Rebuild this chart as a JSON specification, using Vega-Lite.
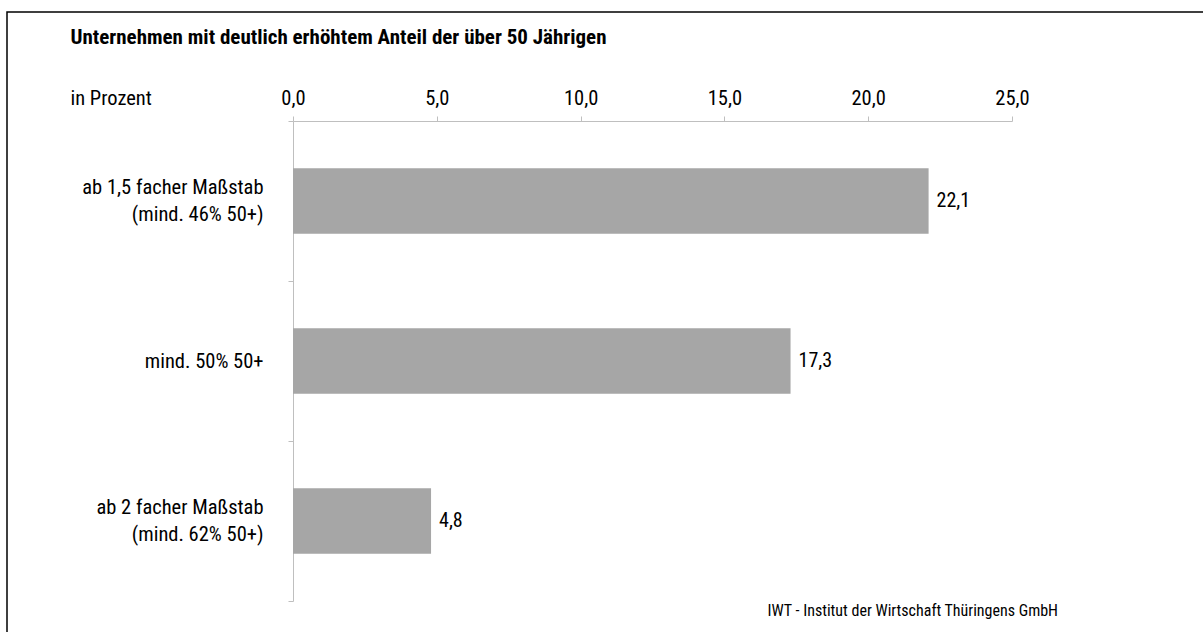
{
  "$schema": "https://vega.github.io/schema/vega-lite/v6.json",
  "autosize": "none",
  "padding": {"left": 7, "top": 12, "right": 0, "bottom": 0},
  "width": 1197,
  "height": 625,
  "config": {
    "locale": {"number": {"decimal": ",", "thousands": ".", "grouping": [3], "currency": ["", " €"]}},
    "view": {"stroke": "#000000", "strokeWidth": 1.5},
    "font": "Roboto Condensed, DejaVu Sans Condensed, Roboto"
  },
  "data": {
    "values": [
      {"kat": "ab 1,5 facher Maßstab|(mind. 46% 50+)", "wert": 22.1},
      {"kat": "mind. 50% 50+", "wert": 17.3},
      {"kat": "ab 2 facher Maßstab|(mind. 62% 50+)", "wert": 4.8}
    ]
  },
  "encoding": {
    "y": {
      "field": "kat",
      "type": "nominal",
      "sort": null,
      "scale": {"range": [109, 589], "paddingInner": 0, "paddingOuter": 0},
      "axis": {
        "orient": "left",
        "offset": -286,
        "title": "in Prozent",
        "titleAngle": 0,
        "titleAlign": "left",
        "titleBaseline": "middle",
        "titleX": -223,
        "titleY": 86,
        "titleFont": "Roboto Condensed, DejaVu Sans Condensed, Roboto",
        "titleFontSize": 20.5,
        "titleFontWeight": "normal",
        "titleColor": "#000000",
        "labelExpr": "isValid(datum.value) ? split(datum.value, '|') : ''",
        "labelOffset": {"condition": {"test": "isValid(datum.value) && indexof(datum.value, '|') >= 0", "value": -13.5}, "value": 0},
        "labelFont": "Roboto Condensed, DejaVu Sans Condensed, Roboto",
        "labelFontSize": 20.5,
        "labelLineHeight": 27,
        "labelColor": "#000000",
        "labelPadding": 25,
        "labelLimit": 400,
        "tickBand": "extent",
        "tickSize": 5,
        "tickColor": "#BFBFBF",
        "domainColor": "#BFBFBF",
        "grid": false
      }
    },
    "x": {
      "field": "wert",
      "type": "quantitative",
      "scale": {"domain": [0, 25], "range": [286, 1005], "nice": false, "zero": true}
    }
  },
  "layer": [
    {
      "mark": {"type": "bar", "color": "#A6A6A6", "height": {"band": 0.41}},
      "encoding": {
        "x": {
          "field": "wert",
          "type": "quantitative",
          "axis": {
            "orient": "top",
            "offset": -109,
            "values": [0, 5, 10, 15, 20, 25],
            "format": ".1f",
            "labelFont": "Roboto Condensed, DejaVu Sans Condensed, Roboto",
            "labelFontSize": 20.5,
            "labelColor": "#000000",
            "labelPadding": 8,
            "labelFlush": false,
            "tickSize": 5,
            "tickColor": "#BFBFBF",
            "domainColor": "#BFBFBF",
            "grid": false,
            "title": "IWT - Institut der Wirtschaft Thüringens GmbH",
            "titleX": 760,
            "titleY": 489,
            "titleAlign": "left",
            "titleBaseline": "middle",
            "titleFont": "Roboto Condensed, DejaVu Sans Condensed, Roboto",
            "titleFontSize": 16,
            "titleFontWeight": "normal",
            "titleColor": "#000000"
          }
        }
      }
    },
    {
      "mark": {"type": "text", "align": "left", "baseline": "middle", "dx": 8, "fontSize": 20, "color": "#000000", "font": "Roboto Condensed, DejaVu Sans Condensed, Roboto"},
      "encoding": {
        "text": {"field": "wert", "type": "quantitative", "format": ".1f"},
        "x": {
          "field": "wert",
          "type": "quantitative",
          "axis": {
            "orient": "top",
            "offset": -109,
            "labels": false,
            "ticks": false,
            "domain": false,
            "grid": false,
            "title": "Unternehmen mit deutlich erhöhtem Anteil der über 50 Jährigen",
            "titleX": 63,
            "titleY": -84,
            "titleAlign": "left",
            "titleBaseline": "middle",
            "titleFont": "Roboto Condensed, DejaVu Sans Condensed, Roboto",
            "titleFontSize": 21,
            "titleFontWeight": "bold",
            "titleColor": "#000000"
          }
        }
      }
    }
  ],
  "resolve": {"axis": {"x": "independent"}}
}
